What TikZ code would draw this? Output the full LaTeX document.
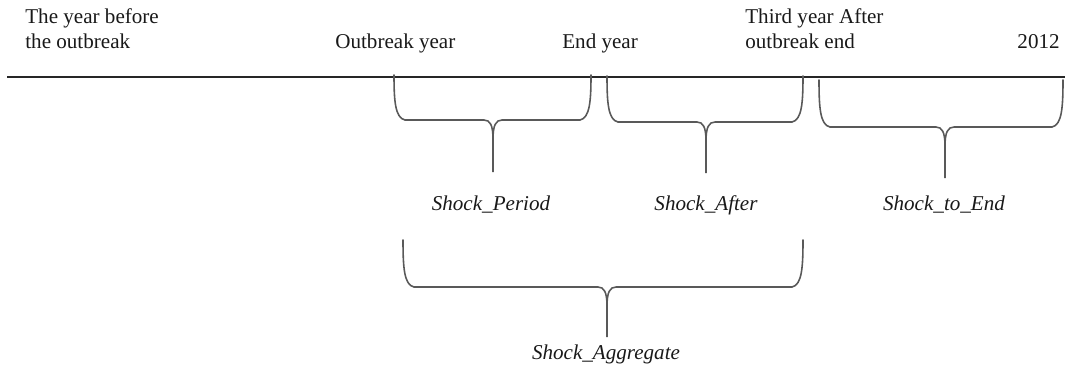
\documentclass[tikz,border=0pt]{standalone}
\usepackage{fontspec}
\setmainfont{Liberation Serif}
\usepackage{tikz}
\usetikzlibrary{
    calc,
    positioning
}
\tikzset{
    timeline/.style={line width=1.6pt, black!85},
    brace line/.style={line width=0.9pt, black!65, line cap=round},
    year/.style={font=\fontsize{12}{14.7}\selectfont, align=left, inner sep=0pt, text=black!90},
    shock/.style={font=\fontsize{12}{14.7}\selectfont\itshape, inner sep=0pt, text=black!90}
}
% brace: left x, centre x, right x, top y, arm y, tip y
\newcommand{\shockbrace}[6]{%
    \draw[brace line] (#1,#4) .. controls (#1,#5-20) and (#1+1,#5-2) .. (#1+11,#5)
        -- (#2-9,#5) .. controls (#2-3,#5) and (#2,#5+5) .. (#2,#5+19)
        -- (#2,#6) -- (#2,#5+19) .. controls (#2,#5+5) and (#2+3,#5) .. (#2+9,#5)
        -- (#3-11,#5) .. controls (#3-1,#5-2) and (#3,#5-20) .. (#3,#4);
}

\begin{document}
\begin{tikzpicture}[x=0.02cm, y=-0.02cm]
        \useasboundingbox (0,0) rectangle (1069,372);

        % years along the top
        \node[year, anchor=base west] (before) at (25,49) {The year before\\the outbreak};
        \node[year, anchor=base west] (outbreak) at (335,49) {Outbreak year};
        \node[year, anchor=base west] (endyear) at (562,49) {End year};
        \node[year, anchor=base west] (third) at (745,49) {Third year After\\outbreak end};
        \node[year, anchor=base east] (last) at (1060,49) {2012};

        \coordinate (tl) at (7,77);
        \coordinate (tr) at (1065,77);
        \draw[timeline] (tl) -- (tr);

        % braces under the line
        \shockbrace{394}{493}{591}{75}{120}{172}
        \shockbrace{607}{706}{803}{76}{122}{173}
        \shockbrace{819}{945}{1063}{80}{127}{178}
        \shockbrace{403}{607}{803}{240}{287}{337}

        \node[shock, anchor=base] (period) at (491,210) {Shock\_Period};
        \node[shock, anchor=base] (after) at (706,210) {Shock\_After};
        \node[shock, anchor=base] (toend) at (944,210) {Shock\_to\_End};
        \node[shock, anchor=base] (aggregate) at (606,359) {Shock\_Aggregate};
    \end{tikzpicture}
\end{document}
